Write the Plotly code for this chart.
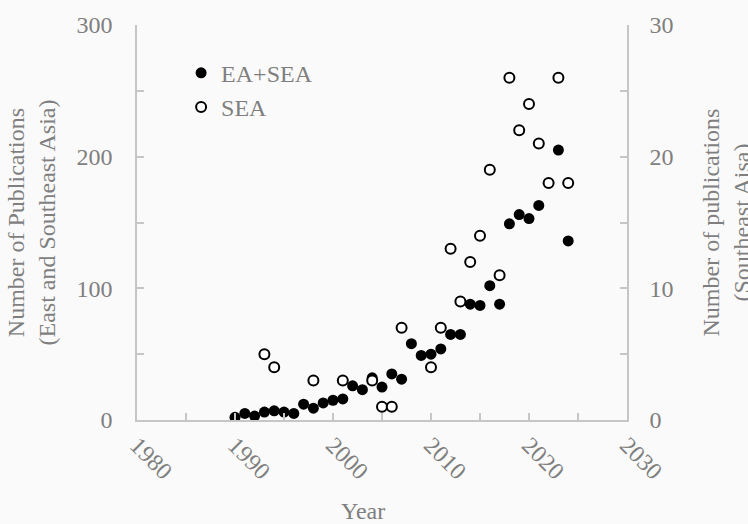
import plotly.graph_objects as go

# EA+SEA (left axis)
ea_years = [1990, 1991, 1992, 1993, 1994, 1995, 1996, 1997, 1998, 1999, 2000, 2001,
            2002, 2003, 2004, 2005, 2006, 2007, 2008, 2009, 2010, 2011, 2012, 2013,
            2014, 2015, 2016, 2017, 2018, 2019, 2020, 2021, 2023, 2024]
ea_counts = [2, 5, 3, 6, 7, 6, 5, 12, 9, 13, 15, 16,
             26, 23, 32, 25, 35, 31, 58, 49, 50, 54, 65, 65,
             88, 87, 102, 88, 149, 156, 153, 163, 205, 136]

# SEA (right axis)
sea_years = [1993, 1994, 1998, 2001, 2004, 2005, 2006, 2007, 2010, 2011, 2012, 2013,
             2014, 2015, 2016, 2017, 2018, 2019, 2020, 2021, 2022, 2023, 2024]
sea_counts = [5, 4, 3, 3, 3, 1, 1, 7, 4, 7, 13, 9,
              12, 14, 19, 11, 26, 22, 24, 21, 18, 26, 18]

FONT = "Liberation Serif, Times New Roman, serif"
TXT = "#7f7f7f"
LINE = "#c6c6c6"
BG = "#fafafa"

fig = go.Figure()
fig.add_trace(go.Scatter(
    x=ea_years, y=ea_counts, mode="markers", name="EA+SEA",
    marker=dict(symbol="circle", size=11, color="black", line=dict(width=0)),
    yaxis="y"))
fig.add_trace(go.Scatter(
    x=sea_years, y=sea_counts, mode="markers", name="SEA",
    marker=dict(symbol="circle", size=10, color="white", line=dict(width=2, color="black")),
    yaxis="y2"))

axis_common = dict(
    showline=True, linecolor=LINE, linewidth=1.5, showgrid=False, zeroline=False,
    ticks="inside", ticklen=7, tickcolor=LINE, tickwidth=1.5,
    tickfont=dict(family=FONT, size=24, color=TXT),
)
minor_common = dict(ticks="inside", ticklen=7, tickcolor=LINE, tickwidth=1.5)

fig.update_layout(
    width=748, height=524,
    margin=dict(l=137, r=121, t=23, b=104),
    paper_bgcolor=BG, plot_bgcolor=BG,
    font=dict(family=FONT, size=24, color=TXT),
    showlegend=True,
    legend=dict(x=0.09, y=0.935, xanchor="left", yanchor="top",
                bgcolor="rgba(0,0,0,0)", font=dict(family=FONT, size=24, color=TXT),
                itemwidth=30, tracegroupgap=0),
    xaxis=dict(range=[1980, 2030], dtick=10, tick0=1980, tickangle=45,
               minor=dict(dtick=5, **minor_common), **axis_common),
    yaxis=dict(range=[0, 300], dtick=100, ticklabelstandoff=18,
               minor=dict(dtick=50, **minor_common), **axis_common),
    yaxis2=dict(range=[0, 30], dtick=10, overlaying="y", side="right", ticklabelstandoff=16,
                minor=dict(dtick=5, **minor_common), **axis_common),
    annotations=[
        dict(text="Year", xref="paper", yref="paper", x=(363 - 137) / 490, y=-(511 - 420) / 397,
             xanchor="center", yanchor="middle", showarrow=False,
             font=dict(family=FONT, size=24, color=TXT)),
        dict(text="Number of Publications<br>(East and Southeast Asia)", textangle=-90,
             xref="paper", yref="paper", x=(31 - 137) / 490, y=0.5,
             xanchor="center", yanchor="middle", showarrow=False,
             font=dict(family=FONT, size=24, color=TXT)),
        dict(text="Number of publications<br>(Southeast Aisa)", textangle=-90,
             xref="paper", yref="paper", x=(726 - 137) / 490, y=0.5,
             xanchor="center", yanchor="middle", showarrow=False,
             font=dict(family=FONT, size=24, color=TXT)),
    ],
)

fig.write_html(
    "out.html",
    config={"displayModeBar": False},
    post_script="document.body.style.margin='0';document.body.style.background='%s';" % BG,
)
